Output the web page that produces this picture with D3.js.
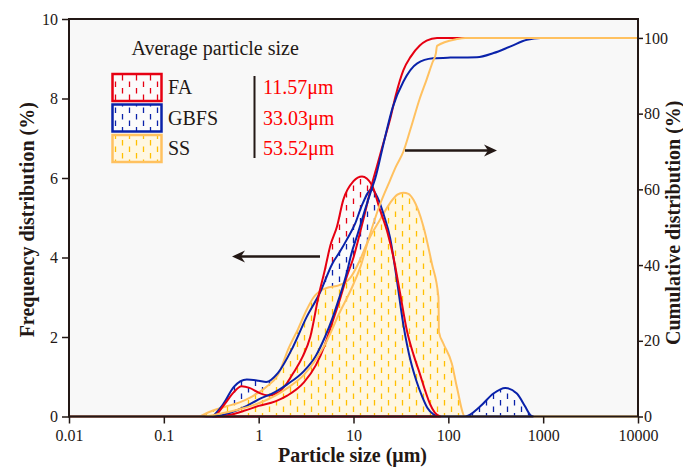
<!DOCTYPE html>
<html><head><meta charset="utf-8">
<script src="https://cdn.jsdelivr.net/npm/d3@7"></script>
<style>body{margin:0;background:#fff}svg{display:block}text{font-family:"Liberation Serif","Times New Roman",serif;fill:#231815}</style>
</head><body><svg id="c" width="683" height="468"></svg>
<script>
// ---- data ----
const xTicks = [0.01, 0.1, 1, 10, 100, 1000, 10000];
const xTickLabels = ["0.01", "0.1", "1", "10", "100", "1000", "10000"];
const leftTicks = [0, 2, 4, 6, 8, 10];
const rightTicks = [0, 20, 40, 60, 80, 100];
const seriesNames = ["FA", "GBFS", "SS"];
const avgSizes = ["11.57\u03bcm", "33.03\u03bcm", "53.52\u03bcm"];

const faFreqSize = [0.35,0.45,0.55,0.66,0.8,1.0,1.26,1.6,2.0,2.3,2.9,3.5,4.3,5.0,5.7,6.7,7.8,10,12.3,15.6,19,23,26.3,31,36.5,43,50,57,64,72,82];
const faFreq     = [0,0.35,0.62,0.76,0.72,0.6,0.53,0.6,0.85,1.08,1.5,2.0,3.05,3.7,4.3,4.78,5.45,5.92,6.04,5.83,5.2,4.6,4.02,3.1,2.17,1.55,1.08,0.65,0.32,0.1,0];

const gbFreqSize = [0.33,0.42,0.55,0.75,1.0,1.2,1.6,2.3,3.2,4.4,6,7.2,8.5,10.4,12.2,15.6,18,21,24.3,28,33.6,40,46,53,60,70,80,100,150,216,299,398,528,646,730,780];
const gbFreq     = [0,0.3,0.75,0.93,0.9,0.87,1.1,1.75,2.5,3.1,3.85,4.15,4.45,4.85,5.3,5.72,5.5,5.05,4.5,3.6,2.3,1.4,0.9,0.5,0.22,0.05,0,0,0,0.25,0.58,0.72,0.58,0.25,0.04,0];

const ssFreqSize = [0.24,0.33,0.45,0.64,0.85,1.2,1.6,2.1,2.6,3.2,3.8,4.4,5.5,7,9.2,11.5,14.4,19,24.3,29,33.6,38,42.9,54.6,67,78.7,79.6,88.8,109,123,150,10000];
const ssFreq     = [0,0.15,0.25,0.36,0.5,0.74,1.05,1.75,2.2,2.68,3.0,3.15,3.25,3.3,3.48,3.9,4.44,4.95,5.37,5.58,5.63,5.6,5.45,4.78,3.85,3.0,2.13,1.83,1.33,0.74,0,0];

const faCumSize = [0.01,0.35,0.5,0.7,1,1.5,2,3,4,5,6,7,8.5,10,11.2,13,15.5,17.6,20,24.3,28,33.6,40,50,59,76,10000];
const faCum     = [0,0,0.5,1.5,2.8,4,5.5,9,13.5,19,25,30,37,42,46.6,53,61,66,71,78.5,85,91.5,95,98,99.3,100,100];

const gbCumSize = [0.01,0.33,0.5,0.75,1,1.5,2,3,4,5,6,7,8.5,9.5,11,13,15.5,17,20.7,26,33.6,47,69,105,200,300,447,675,940,10000];
const gbCum     = [0,0,1,2.8,4.5,6.5,8.5,12,16,21,26,31,38,43,48,54,60,63,72,81.8,88.5,93.3,94.6,94.8,94.9,96,97.7,99.5,100,100];

const ssCumSize = [0.01,0.25,0.4,0.6,1,1.5,2,3,4,5,7,10,12,14.3,19,24.3,28,33.6,40,50,59,68,74,76,123,150,10000];
const ssCum     = [0,0,0.8,1.8,3.5,5.5,7.5,11,15,19,27,35,40,46.6,56,62.4,66,70,76,84,89,93.5,96,97.9,99.7,100,100];

// ---- layout ----
const L = 69, R = 638, T = 19, B = 416.5;
const ink = "#231815";
const colors = {FA: "#e60012", GBFS: "#0a22aa", SS: "#ffc160"};
const dashColors = {FA: "#e60012", GBFS: "#0a22aa", SS: "#ffc000"};

const svg = d3.select("#c");
const x = d3.scaleLog().domain([0.01, 10000]).range([L, R]);
const yL = d3.scaleLinear().domain([0, 10]).range([B, T]);
const yR = d3.scaleLinear().domain([0, 105]).range([B, T]);

svg.append("rect").attr("x", L).attr("y", T).attr("width", R - L).attr("height", B - T).attr("fill", "#f8f8f8");

const defs = svg.append("defs");
function pattern(id, color, off, bg) {
  const p = defs.append("pattern").attr("id", id).attr("patternUnits", "userSpaceOnUse")
    .attr("width", 14).attr("height", 13).attr("x", off).attr("y", 3);
  p.append("rect").attr("width", 14).attr("height", 13).attr("fill", bg);
  p.append("line").attr("x1", 3.5).attr("x2", 3.5).attr("y1", 0.5).attr("y2", 6).attr("stroke", color).attr("stroke-width", 1.3);
  p.append("line").attr("x1", 10.5).attr("x2", 10.5).attr("y1", 7).attr("y2", 12.5).attr("stroke", color).attr("stroke-width", 1.3);
}
pattern("pSS", dashColors.SS, 0, "#fff7e2");
pattern("pFA", dashColors.FA, 0, "#fbfbfb");
pattern("pGB", dashColors.GBFS, 0, "#fbfbfb");

function zip(s, v) { return s.map((d, i) => ({s: d, v: v[i]})); }
const g = svg.append("g");
const areaL = d3.area().x(d => x(d.s)).y0(yL(0)).y1(d => yL(d.v)).curve(d3.curveMonotoneX);
const lineR = d3.line().x(d => x(d.s)).y(d => yR(d.v)).curve(d3.curveMonotoneX);

const freq = {
  FA: {p: "pFA", d: zip(faFreqSize, faFreq)},
  GBFS: {p: "pGB", d: zip(gbFreqSize, gbFreq)},
  SS: {p: "pSS", d: zip(ssFreqSize, ssFreq)}
};
// fills: FA below, GBFS over it, SS on top
["FA", "GBFS", "SS"].forEach(k => {
  g.append("path").attr("d", areaL(freq[k].d)).attr("fill", `url(#${freq[k].p})`).attr("stroke", "none");
});
// outlines
["SS", "GBFS", "FA"].forEach(k => {
  g.append("path").attr("d", areaL(freq[k].d)).attr("fill", "none")
    .attr("stroke", colors[k]).attr("stroke-width", 2).attr("stroke-linejoin", "round");
});
const cum = [
  {k: "FA", d: zip(faCumSize, faCum)},
  {k: "GBFS", d: zip(gbCumSize, gbCum)},
  {k: "SS", d: zip(ssCumSize, ssCum)}
];
cum.forEach(c => {
  g.append("path").attr("d", lineR(c.d)).attr("fill", "none").attr("stroke", colors[c.k]).attr("stroke-width", 2);
});

// ---- axes ----
const xAxis = d3.axisBottom(x).tickValues(xTicks).tickFormat((d, i) => xTickLabels[i]).tickSize(7).tickPadding(6);
const minorX = [];
for (let e = -2; e < 4; e++) for (let m = 2; m <= 9; m++) minorX.push(m * Math.pow(10, e));
const ax = svg.append("g").attr("transform", `translate(0,${B})`);
ax.call(d3.axisBottom(x).tickValues(minorX).tickFormat("").tickSize(4));
ax.call(xAxis);
ax.selectAll("text").attr("font-size", 16).attr("fill", ink);

const ay = svg.append("g").attr("transform", `translate(${L},0)`);
ay.call(d3.axisLeft(yL).tickValues([1,3,5,7,9]).tickFormat("").tickSize(4));
ay.call(d3.axisLeft(yL).tickValues(leftTicks).tickSize(7).tickPadding(4));
ay.selectAll("text").attr("font-size", 16).attr("fill", ink);

const ayr = svg.append("g").attr("transform", `translate(${R},0)`);
ayr.call(d3.axisRight(yR).tickValues([10,30,50,70,90]).tickFormat("").tickSize(4));
ayr.call(d3.axisRight(yR).tickValues(rightTicks).tickSize(5).tickPadding(1));
ayr.selectAll("text").attr("font-size", 16).attr("fill", ink);

svg.selectAll(".domain").remove();
svg.selectAll(".tick line").attr("stroke", ink).attr("stroke-width", 1.5);
svg.append("rect").attr("x", L).attr("y", T).attr("width", R - L).attr("height", B - T)
  .attr("fill", "none").attr("stroke", ink).attr("stroke-width", 2);

// axis titles
svg.append("text").attr("x", (L + R) / 2 - 1).attr("y", 462).attr("text-anchor", "middle")
  .attr("font-size", 20).attr("font-weight", "bold").text("Particle size (\u03bcm)");
svg.append("text").attr("transform", `translate(34,${(T + B) / 2 + 2}) rotate(-90)`).attr("text-anchor", "middle")
  .attr("font-size", 20).attr("font-weight", "bold").text("Frequency distribution (%)");
svg.append("text").attr("transform", `translate(680,${(T + B) / 2 + 5}) rotate(-90)`).attr("text-anchor", "middle")
  .attr("font-size", 20).attr("font-weight", "bold").text("Cumulative distribution (%)");

// arrows
function arrow(x1, x2, yy) {
  const dir = Math.sign(x2 - x1);
  svg.append("line").attr("x1", x1).attr("x2", x2 - dir * 6).attr("y1", yy).attr("y2", yy)
    .attr("stroke", ink).attr("stroke-width", 2.5);
  svg.append("path").attr("d", `M${x2},${yy} L${x2 - dir * 13},${yy - 6} L${x2 - dir * 9},${yy} L${x2 - dir * 13},${yy + 6} Z`)
    .attr("fill", ink);
}
arrow(320, 232, 256.5);
arrow(405, 497, 150.5);

// legend
svg.append("text").attr("x", 131.5).attr("y", 55).attr("font-size", 20).text("Average particle size");
const pats = ["pFA", "pGB", "pSS"];
seriesNames.forEach((n, i) => {
  const yy = 74 + i * 30.5;
  svg.append("rect").attr("x", 112.5).attr("y", yy).attr("width", 49).attr("height", 27)
    .attr("fill", `url(#${pats[i]})`).attr("stroke", colors[n]).attr("stroke-width", 2.5);
  svg.append("text").attr("x", 168).attr("y", yy + 20).attr("font-size", 20).text(n);
  svg.append("text").attr("x", 263).attr("y", yy + 20).attr("font-size", 20).style("fill", "#ff0000").text(avgSizes[i]);
});
svg.append("line").attr("x1", 254.5).attr("x2", 254.5).attr("y1", 76).attr("y2", 158).attr("stroke", ink).attr("stroke-width", 2);
</script></body></html>
